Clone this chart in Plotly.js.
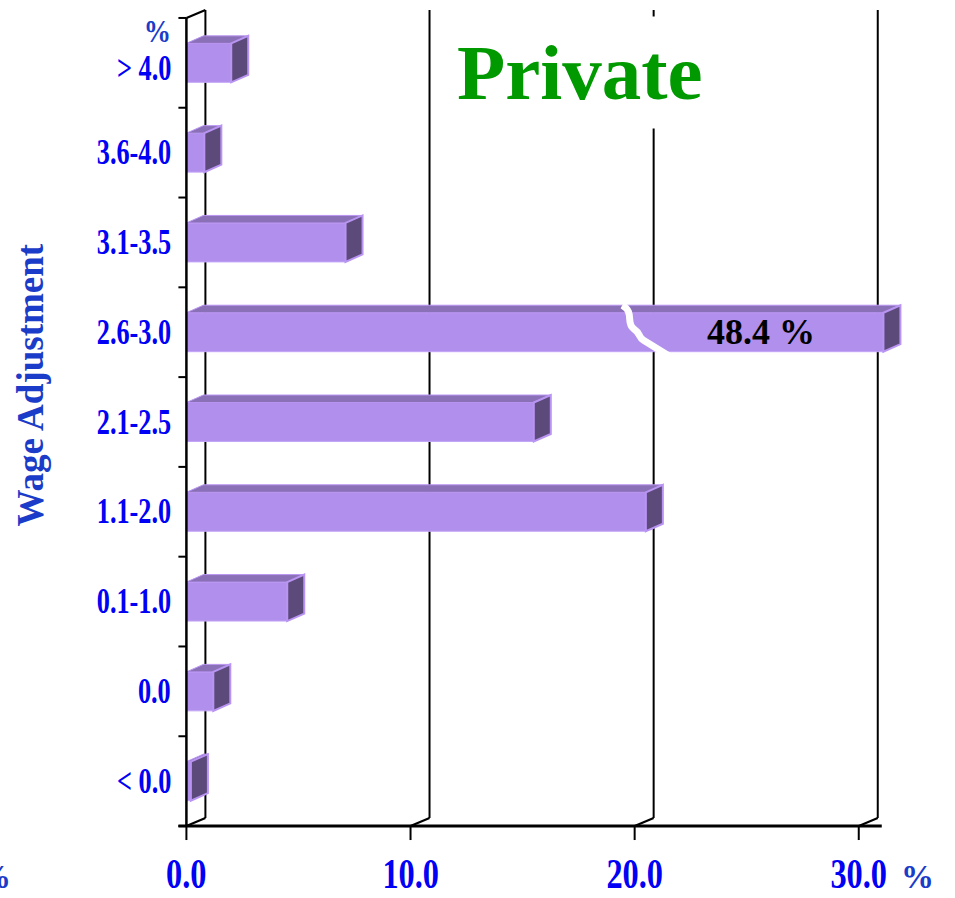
<!DOCTYPE html>
<html>
<head>
<meta charset="utf-8">
<script src="https://cdn.plot.ly/plotly-3.0.1.min.js"></script>
<style>
  html, body { margin: 0; padding: 0; background: #ffffff; }
  #chart { width: 955px; height: 898px; }
</style>
</head>
<body>
<div id="chart"></div>
<script>
// Wage adjustment ranges, listed bottom to top, and the share of private-sector settlements (%)
const categories = ['< 0.0', '0.0', '0.1-1.0', '1.1-2.0', '2.1-2.5', '2.6-3.0', '3.1-3.5', '3.6-4.0', '> 4.0'];
const shares = [0.2, 1.2, 4.5, 20.5, 15.5, 48.4, 7.1, 0.8, 2.0];
const xTickValues = [0, 10, 20, 30];
const xTickLabels = ['0.0', '10.0', '20.0', '30.0'];
const chartTitle = 'Private';
const yTitle = 'Wage Adjustment';
const unitLabel = '%';

// ---- geometry ----
const W = 955, H = 898;
const M = { l: 164, r: 29, t: 0, b: 54 };
const X_RANGE = [-1, 33];
const Y_RANGE = [-0.7, 8.7];
const plotW = W - M.l - M.r, plotH = H - M.t - M.b;
const pxX = plotW / (X_RANGE[1] - X_RANGE[0]);   // pixels per % point
const pxY = plotH / (Y_RANGE[1] - Y_RANGE[0]);   // pixels per category
const paperX = px => (px - M.l) / plotW;
const paperY = py => (H - M.b - py) / plotH;

const BAR_W = 0.434;                 // bar thickness in category units
const BAR_DX = 17 / pxX, BAR_DY = 7.5 / pxY;   // bar depth (pseudo 3-D)
const WALL_DX = 19 / pxX, WALL_DY = 8 / pxY;   // back wall offset
const AXIS_CAP = 31.1;               // longer bars are drawn broken at this length
const BREAK_AT = 19.45;              // where the break mark crosses a broken bar
const Y_LO = -0.5, Y_HI = categories.length - 0.5;

const FRONT = '#b18fec', TOP = '#8a70b6', END = '#5c4a7b', EDGE = '#b994f2';
const LABEL_BLUE = '#0000f5', TITLE_BLUE = '#1a3cc8';
const SERIF = '"Liberation Serif", "Times New Roman", Times, serif';

const idx = categories.map((_, i) => i);
const drawn = shares.map(v => Math.min(v, AXIS_CAP));

// ---- shapes ----
const shapes = [];
function seg(x0, y0, x1, y1, width, layer) {
  shapes.push({ type: 'line', xref: 'x', yref: 'y', x0, y0, x1, y1, layer,
                line: { color: '#000000', width } });
}
function poly(pts, fill, lineColor, lineWidth) {
  const d = 'M' + pts.map(p => p[0] + ',' + p[1]).join('L') + 'Z';
  shapes.push({ type: 'path', xref: 'x', yref: 'y', path: d, layer: 'above',
                fillcolor: fill, line: { color: lineColor, width: lineWidth } });
}

// back wall: vertical grid lines and their links to the floor
xTickValues.forEach(v => {
  seg(v + WALL_DX, Y_LO + WALL_DY, v + WALL_DX, Y_HI + WALL_DY, 2, 'below');
  seg(v, Y_LO, v + WALL_DX, Y_LO + WALL_DY, 2, 'below');
});
seg(0, Y_HI, WALL_DX, Y_HI + WALL_DY, 2, 'below');

// top and end faces of every bar
idx.forEach(i => {
  const L = drawn[i], top = i + BAR_W / 2, bot = i - BAR_W / 2;
  poly([[0, top], [BAR_DX, top + BAR_DY], [L + BAR_DX, top + BAR_DY], [L, top]], TOP, EDGE, 1);
  poly([[L, bot], [L, top], [L + BAR_DX, top + BAR_DY], [L + BAR_DX, bot + BAR_DY]], END, EDGE, 2);
});

// break mark across bars that exceed the axis
idx.filter(i => shares[i] > AXIS_CAP).forEach(i => {
  const yT = i + BAR_W / 2 + BAR_DY;
  const b = BREAK_AT;
  const d = `M${b},${yT} C${b + 0.55},${yT - 0.08} ${b + 0.15},${yT - 0.2} ${b + 0.5},${yT - 0.26}` +
            ` S${b + 0.7},${yT - 0.36} ${b + 0.95},${yT - 0.39} L${b + 3.1},${i - 0.42}`;
  shapes.push({ type: 'path', xref: 'x', yref: 'y', path: d, layer: 'above',
                line: { color: '#ffffff', width: 7 } });
});

// front axes with their ticks
seg(0, Y_LO, 0, Y_HI, 2.5, 'above');
for (let b = Y_LO; b <= Y_HI + 1e-9; b += 1) seg(-8 / pxX, b, 0, b, 2, 'above');
const xAxisEnd = xTickValues[xTickValues.length - 1] + WALL_DX + 4 / pxX;
seg(-8 / pxX, Y_LO, xAxisEnd, Y_LO, 3, 'above');
xTickValues.forEach(v => seg(v, Y_LO, v, Y_LO - 14 / pxY, 2, 'above'));

// ---- text ----
const annotations = [];
const condense = {};   // annotation index -> horizontal squeeze
function addText(a, squeeze, origin) {
  if (squeeze) condense[annotations.length] = { sx: squeeze, origin };
  annotations.push(Object.assign({ showarrow: false }, a));
}

categories.forEach((c, i) => addText({
  text: c, xref: 'x', yref: 'y', x: -0.6, y: i, xanchor: 'right', yanchor: 'middle',
  yshift: i === categories.length - 1 ? -6 : 0,
  font: { family: SERIF, size: 35, color: LABEL_BLUE, weight: 'bold' }
}, 0.75, 'right'));

addText({
  text: unitLabel, xref: 'x', yref: 'paper', x: -0.6, y: paperY(31), xanchor: 'right', yanchor: 'middle',
  font: { family: SERIF, size: 31, color: TITLE_BLUE, weight: 'bold' }
}, 0.88, 'right');

xTickValues.forEach((v, k) => addText({
  text: xTickLabels[k], xref: 'x', yref: 'paper', x: v, y: paperY(874), xanchor: 'center', yanchor: 'middle',
  font: { family: SERIF, size: 42, color: LABEL_BLUE, weight: 'bold' }
}, 0.77, 'center'));

addText({
  text: unitLabel, xref: 'paper', yref: 'paper', x: paperX(917), y: paperY(877), xanchor: 'center', yanchor: 'middle',
  font: { family: SERIF, size: 33, color: TITLE_BLUE, weight: 'bold' }
});
addText({
  text: unitLabel, xref: 'paper', yref: 'paper', x: paperX(13), y: paperY(877), xanchor: 'right', yanchor: 'middle',
  font: { family: SERIF, size: 33, color: TITLE_BLUE, weight: 'bold' }
});

addText({
  text: yTitle, xref: 'paper', yref: 'paper', x: paperX(30.5), y: paperY(385), textangle: -90,
  xanchor: 'center', yanchor: 'middle',
  font: { family: SERIF, size: 37, color: TITLE_BLUE, weight: 'bold' }
});

addText({
  text: chartTitle, xref: 'paper', yref: 'paper', x: paperX(580), y: paperY(72),
  xanchor: 'center', yanchor: 'middle', bgcolor: '#ffffff', borderpad: 12,
  font: { family: SERIF, size: 79, color: '#009a00', weight: 'bold' }
});

// value label on broken bars
idx.filter(i => shares[i] > AXIS_CAP).forEach(i => addText({
  text: shares[i].toFixed(1) + ' %', xref: 'x', yref: 'y',
  x: (BREAK_AT + drawn[i] + BAR_DX) / 2, y: i, xanchor: 'center', yanchor: 'middle',
  font: { family: SERIF, size: 36, color: '#000000', weight: 'bold' }
}));

// ---- traces ----
const bars = {
  type: 'bar', orientation: 'h', y: idx, x: drawn, width: BAR_W,
  marker: { color: FRONT, line: { color: '#c3a6f7', width: 1 } },
  hoverinfo: 'skip', showlegend: false
};

const hidden = { showgrid: false, zeroline: false, showline: false, showticklabels: false, ticks: '', fixedrange: true };
const layout = {
  width: W, height: H, margin: M,
  paper_bgcolor: '#ffffff', plot_bgcolor: '#ffffff',
  xaxis: Object.assign({ range: X_RANGE }, hidden),
  yaxis: Object.assign({ range: Y_RANGE }, hidden),
  shapes, annotations, showlegend: false
};

Plotly.newPlot('chart', [bars], layout, { staticPlot: true }).then(gd => {
  // tick labels use a narrow serif face: squeeze them horizontally
  gd.querySelectorAll('g.annotation').forEach(g => {
    const spec = condense[+g.getAttribute('data-index')];
    if (!spec) return;
    const t = g.querySelector('text.annotation-text');
    if (!t) return;
    const bb = t.getBBox();
    const ox = spec.origin === 'right' ? bb.x + bb.width : bb.x + bb.width / 2;
    t.setAttribute('transform', `translate(${ox},0) scale(${spec.sx},1) translate(${-ox},0)`);
  });
});
</script>
</body>
</html>
